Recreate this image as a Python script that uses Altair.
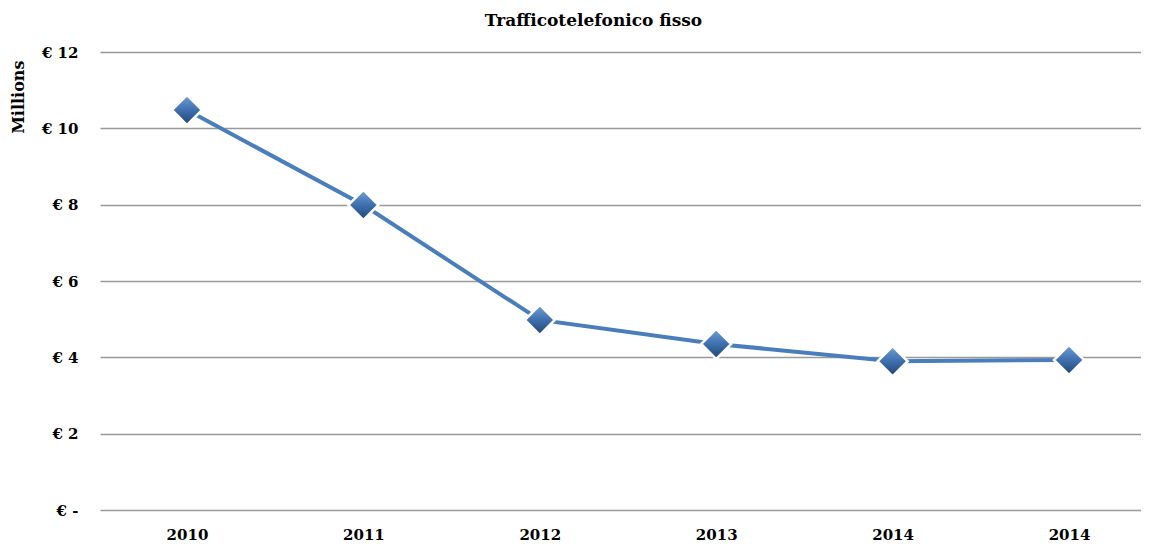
import altair as alt
import pandas as pd

labels = ["2010", "2011", "2012", "2013", "2014", "2014"]
values = [10.48, 7.99, 4.98, 4.35, 3.90, 3.93]
idx = list(range(len(labels)))

df = pd.DataFrame({"i": idx, "label": labels, "v": values})

FONT = "DejaVu Serif"
label_map = "[" + ",".join("'" + l + "'" for l in labels) + "]"

x = alt.X("i:Q",
          scale=alt.Scale(domain=[-0.493, 5.408], nice=False, zero=False),
          axis=alt.Axis(values=idx, labelExpr=label_map + "[datum.value]",
                        grid=False, domain=False, ticks=False,
                        labelFont=FONT, labelFontWeight="bold", labelFontSize=15,
                        labelColor="#000", labelPadding=17, title=None))
y = alt.Y("v:Q",
          scale=alt.Scale(domain=[0, 12], nice=False),
          axis=alt.Axis(values=[0, 2, 4, 6, 8, 10, 12],
                        labelExpr="datum.value == 0 ? '€ -' : '€ ' + datum.value",
                        grid=True, gridColor="#999999", gridWidth=1.5,
                        domain=False, ticks=False,
                        labelFont=FONT, labelFontWeight="bold", labelFontSize=15,
                        labelColor="#000", labelPadding=22,
                        title="Millions", titleFont=FONT, titleFontWeight="bold",
                        titleFontSize=16, titleColor="#000", titleAnchor="end",
                        titleAlign="right", titleY=8, titlePadding=15))

grad = alt.Gradient(gradient="linear", x1=0, y1=0, x2=0, y2=1,
                    stops=[alt.GradientStop(color="#6A9AD3", offset=0),
                           alt.GradientStop(color="#3F70AE", offset=0.5),
                           alt.GradientStop(color="#24497A", offset=1)])

base = alt.Chart(df)
line = base.mark_line(color="#4A7EBB", strokeWidth=4).encode(x=x, y=y)
pts = base.mark_point(shape="diamond", size=700, filled=True, opacity=1, fill=grad,
                      stroke="white", strokeWidth=5, strokeOpacity=1).encode(x=x, y=y)
pts2 = base.mark_point(shape="diamond", size=700, filled=True, opacity=1,
                       fill=grad).encode(x=x, y=y)

chart = (line + pts + pts2).properties(
    width=1041, height=458,
    autosize=alt.AutoSizeParams(type="none"),
    padding={"left": 92, "top": 44, "right": 0, "bottom": 32},
    title=alt.TitleParams("Trafficotelefonico fisso", font=FONT, fontWeight="bold",
                          fontSize=17, color="#000", offset=15, dx=-27),
).configure_view(stroke=None)

chart.save("out.html", embed_options={"renderer": "svg", "actions": False})
